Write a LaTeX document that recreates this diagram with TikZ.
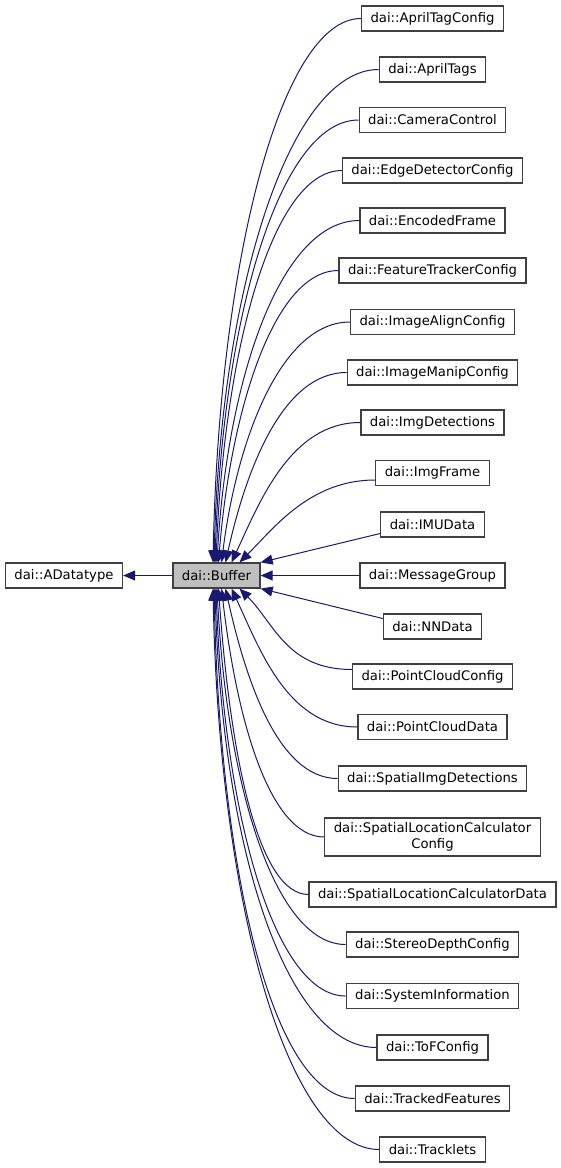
\documentclass[tikz,border=0pt]{standalone}
\usepackage{fontspec}
\setmainfont{DejaVu Sans}
\usetikzlibrary{arrows.meta}
\definecolor{midnightblue}{RGB}{25,25,112}
\tikzset{
    % Filled triangular heads, as graphviz draws them
    >={Triangle[length=12pt, width=10pt]},
%
    % A plain class box
    class box/.style={draw=black!75, line width=1.2pt, fill=white,
        minimum height=25pt, inner xsep=9pt, inner ysep=3pt,
        font=\fontsize{13.2}{15.5}\selectfont},
%
    % The class the graph is about
    current class/.style={class box, fill=black!25},
%
    % An inheritance edge
    inherit edge/.style={->, draw=midnightblue, line width=1pt}}

\begin{document}
\begin{tikzpicture}[x=1pt, y=-1pt]
\useasboundingbox (0,0) rectangle (561,1168);

% Base classes
\node[class box] at (64,575.5) (adatatype) {dai::ADatatype};
\node[current class] at (216.5,575.5) (buffer) {dai::Buffer};
\draw[inherit edge] (buffer.west) -- (adatatype.east);

% Derived classes
\node[class box] at (432.5,18.5) (apriltagconfig) {dai::AprilTagConfig};
\node[class box] at (432.5,69.5) (apriltags) {dai::AprilTags};
\node[class box] at (432.5,120) (cameracontrol) {dai::CameraControl};
\node[class box] at (432.5,170.5) (edgedetectorconfig) {dai::EdgeDetectorConfig};
\node[class box] at (432.5,220.5) (encodedframe) {dai::EncodedFrame};
\node[class box] at (432.5,270.5) (featuretrackerconfig) {dai::FeatureTrackerConfig};
\node[class box] at (432.5,322) (imagealignconfig) {dai::ImageAlignConfig};
\node[class box] at (432.5,372.5) (imagemanipconfig) {dai::ImageManipConfig};
\node[class box] at (432.5,422.5) (imgdetections) {dai::ImgDetections};
\node[class box] at (432.5,473) (imgframe) {dai::ImgFrame};
\node[class box] at (432.5,524.5) (imudata) {dai::IMUData};
\node[class box] at (432.5,575.5) (messagegroup) {dai::MessageGroup};
\node[class box] at (432.5,626.5) (nndata) {dai::NNData};
\node[class box] at (432.5,676.5) (pointcloudconfig) {dai::PointCloudConfig};
\node[class box] at (432.5,727) (pointclouddata) {dai::PointCloudData};
\node[class box] at (432.5,778.5) (spatialimgdetections) {dai::SpatialImgDetections};
\node[class box, align=center, minimum height=38pt] at (432.5,837)
    (spatiallocationcalculatorconfig) {dai::SpatialLocationCalculator\\Config};
\node[class box] at (432.5,894.5) (spatiallocationcalculatordata)
    {dai::SpatialLocationCalculatorData};
\node[class box] at (432.5,944.5) (stereodepthconfig) {dai::StereoDepthConfig};
\node[class box] at (432.5,996) (systeminformation) {dai::SystemInformation};
\node[class box] at (432.5,1047.5) (tofconfig) {dai::ToFConfig};
\node[class box] at (432.5,1098.5) (trackedfeatures) {dai::TrackedFeatures};
\node[class box] at (432.5,1149.5) (tracklets) {dai::Tracklets};

% Edges into the top of the buffer
\draw[inherit edge] (apriltagconfig.west) .. controls +(-80,0) and +(6,-300) ..
    ([xshift=-3.5pt]buffer.north);
\draw[inherit edge] (apriltags.west) .. controls +(-90,0) and +(6,-270) ..
    ([xshift=-2.5pt]buffer.north);
\draw[inherit edge] (cameracontrol.west) .. controls +(-80,0) and +(7,-240) ..
    ([xshift=-1.5pt]buffer.north);
\draw[inherit edge] (edgedetectorconfig.west) .. controls +(-70,0) and +(8,-210) ..
    ([xshift=-0.5pt]buffer.north);
\draw[inherit edge] (encodedframe.west) .. controls +(-80,0) and +(10,-180) ..
    ([xshift=0.5pt]buffer.north);
\draw[inherit edge] (featuretrackerconfig.west) .. controls +(-65,0) and +(12,-150) ..
    ([xshift=2pt]buffer.north);
\draw[inherit edge] (imagealignconfig.west) .. controls +(-70,0) and +(15,-120) ..
    ([xshift=5pt]buffer.north);
\draw[inherit edge] (imagemanipconfig.west) .. controls +(-65,0) and +(20,-90) ..
    ([xshift=9pt]buffer.north);
\draw[inherit edge] (imgdetections.west) .. controls +(-70,0) and +(28,-60) ..
    ([xshift=15pt]buffer.north);
\draw[inherit edge] ([yshift=-7pt]imgframe.west) .. controls +(-65,0) and +(35,-35) ..
    ([xshift=23pt]buffer.north);

% Edges into the side of the buffer
\draw[inherit edge] ([yshift=-9pt]imudata.west) -- (buffer.north east);
\draw[inherit edge] (messagegroup.west) -- (buffer.east);
\draw[inherit edge] ([yshift=8pt]nndata.west) -- (buffer.south east);

% Edges into the bottom of the buffer
\draw[inherit edge] ([yshift=7pt]pointcloudconfig.west) .. controls +(-65,0) and +(35,35) ..
    ([xshift=23pt]buffer.south);
\draw[inherit edge] (pointclouddata.west) .. controls +(-70,0) and +(28,60) ..
    ([xshift=15pt]buffer.south);
\draw[inherit edge] (spatialimgdetections.west) .. controls +(-60,0) and +(20,90) ..
    ([xshift=9pt]buffer.south);
\draw[inherit edge] (spatiallocationcalculatorconfig.west) .. controls +(-55,0) and +(15,130) ..
    ([xshift=5pt]buffer.south);
\draw[inherit edge] (spatiallocationcalculatordata.west) .. controls +(-50,0) and +(12,170) ..
    ([xshift=2pt]buffer.south);
\draw[inherit edge] (stereodepthconfig.west) .. controls +(-70,0) and +(10,200) ..
    ([xshift=0.5pt]buffer.south);
\draw[inherit edge] (systeminformation.west) .. controls +(-70,0) and +(8,230) ..
    ([xshift=-0.5pt]buffer.south);
\draw[inherit edge] (tofconfig.west) .. controls +(-90,0) and +(7,260) ..
    ([xshift=-1.5pt]buffer.south);
\draw[inherit edge] (trackedfeatures.west) .. controls +(-80,0) and +(6,290) ..
    ([xshift=-2.5pt]buffer.south);
\draw[inherit edge] (tracklets.west) .. controls +(-90,0) and +(6,320) ..
    ([xshift=-3.5pt]buffer.south);
\end{tikzpicture}
\end{document}
